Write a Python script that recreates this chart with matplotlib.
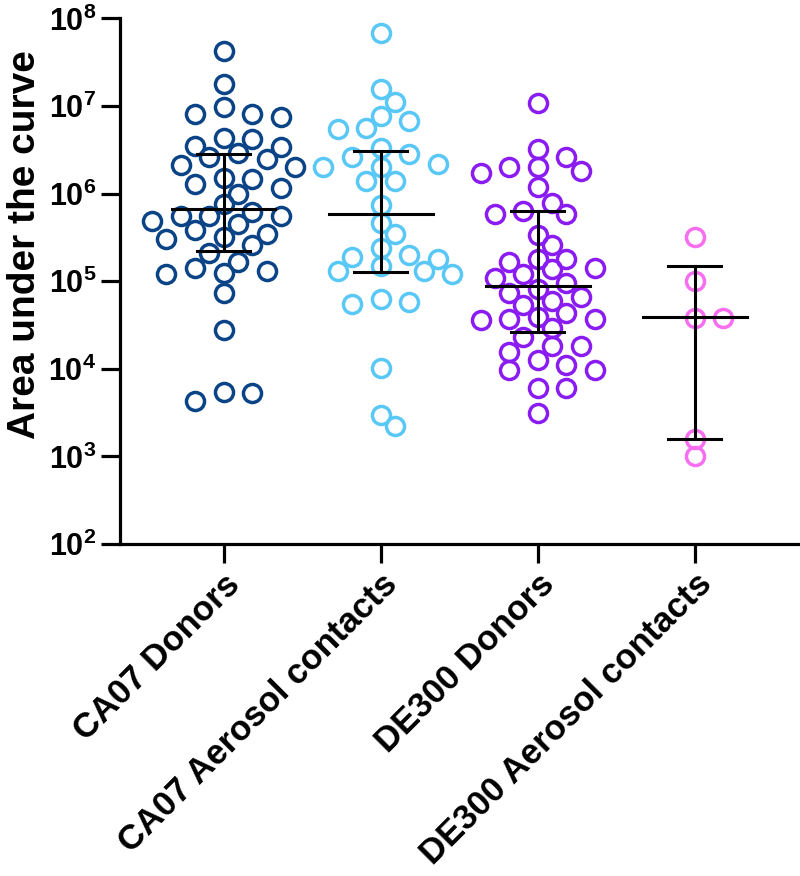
import numpy as np
import matplotlib
matplotlib.use("Agg")
import matplotlib.pyplot as plt

# ---- data ----
groups = ["CA07 Donors", "CA07 Aerosol contacts", "DE300 Donors", "DE300 Aerosol contacts"]
colors = ["#0b4387", "#5ac8f7", "#8a1cf2", "#f76ef0"]

ca07_donors = [4.2e7, 1.76e7, 9.8e6, 8.1e6, 8.1e6, 7.4e6, 4.3e6, 4.2e6, 3.5e6, 3.4e6,
               2.9e6, 2.6e6, 2.5e6, 2.1e6, 2.0e6, 1.5e6, 1.45e6, 1.3e6, 1.15e6, 1.0e6,
               7.6e5, 6.2e5, 5.6e5, 5.5e5, 5.5e5, 4.9e5, 4.5e5, 3.8e5, 3.5e5, 3.2e5,
               3.0e5, 2.6e5, 2.1e5, 1.65e5, 1.4e5, 1.3e5, 1.25e5, 1.2e5, 7.4e4, 2.8e4,
               5.4e3, 5.3e3, 4.3e3]
ca07_aerosol = [6.9e7, 1.55e7, 1.12e7, 7.6e6, 6.8e6, 5.6e6, 5.4e6, 3.3e6, 2.8e6, 2.6e6,
                2.2e6, 2.0e6, 2.0e6, 1.4e6, 1.4e6, 7.4e5, 4.6e5, 3.5e5, 2.4e5, 2.0e5,
                1.9e5, 1.8e5, 1.5e5, 1.3e5, 1.3e5, 1.2e5, 6.2e4, 5.8e4, 5.5e4, 1.02e4,
                3.0e3, 2.2e3]
de300_donors = [1.07e7, 3.2e6, 2.6e6, 2.0e6, 2.0e6, 1.8e6, 1.7e6, 1.2e6, 7.9e5, 6.3e5,
                5.9e5, 5.9e5, 3.4e5, 2.6e5, 1.8e5, 1.8e5, 1.65e5, 1.4e5, 1.37e5, 1.2e5,
                1.1e5, 9.5e4, 8.1e4, 7.4e4, 6.6e4, 6.0e4, 5.3e4, 4.3e4, 3.9e4, 3.7e4,
                3.7e4, 3.6e4, 2.9e4, 2.3e4, 1.8e4, 1.8e4, 1.55e4, 1.25e4, 1.1e4, 9.6e3,
                9.6e3, 6.0e3, 6.0e3, 3.1e3]
de300_aerosol = [3.2e5, 1.0e5, 3.8e4, 3.8e4, 1.6e3, 1.0e3]

medians = [6.6e5, 5.9e5, 8.7e4, 3.9e4]
q1 = [2.2e5, 1.26e5, 2.6e4, 1.6e3]
q3 = [2.8e6, 3.1e6, 6.3e5, 1.5e5]

ytick_exp = [2, 3, 4, 5, 6, 7, 8]

plt.rcParams["font.family"] = ["Liberation Sans", "DejaVu Sans"]
plt.rcParams["font.weight"] = "bold"
plt.rcParams["mathtext.fontset"] = "custom"
plt.rcParams["mathtext.rm"] = "Liberation Sans:bold"
plt.rcParams["mathtext.bf"] = "Liberation Sans:bold"


def swarm_x(ax, center, values, step_px=14.3, diam_px=17.5):
    """Beeswarm simples: offsets em múltiplos de step_px, distância mínima diam_px."""
    to_disp = ax.transData
    x0 = to_disp.transform((center, 1.0))[0]
    ys = [to_disp.transform((center, v))[1] for v in values]
    order = [0]
    for i in range(1, 12):
        order += [i, -i]
    placed = []
    for y in ys:
        for k in order:
            x = x0 + k * step_px
            if all((x - px) ** 2 + (y - py) ** 2 >= diam_px ** 2 for px, py in placed):
                break
        placed.append((x, y))
    inv = ax.transData.inverted()
    return [inv.transform(p)[0] for p in placed]


fig = plt.figure(figsize=(8.0, 8.76), dpi=100)
ax = fig.add_axes([0.15, 0.379, 0.85, 0.6])
ax.set_yscale("log")
ax.set_ylim(1e2, 1e8)
ax.set_xlim(-0.66, 3.67)

data = [ca07_donors, ca07_aerosol, de300_donors, de300_aerosol]
for i, vals in enumerate(data):
    xs = swarm_x(ax, i, vals)
    ax.plot(xs, vals, "o", ms=13, mfc="none", mec=colors[i], mew=2.5,
            zorder=2, clip_on=False)
    # mediana com intervalo interquartil
    ax.plot([i - 0.33, i + 0.33], [medians[i]] * 2, color="k", lw=2.2, zorder=3)
    ax.plot([i, i], [q1[i], q3[i]], color="k", lw=2.2, zorder=3)
    ax.plot([i - 0.17, i + 0.17], [q1[i]] * 2, color="k", lw=2.2, zorder=3)
    ax.plot([i - 0.17, i + 0.17], [q3[i]] * 2, color="k", lw=2.2, zorder=3)

ax.set_yticks([10.0 ** k for k in ytick_exp])
ax.set_yticklabels([rf"$\mathbf{{10^{{{k}}}}}$" for k in ytick_exp], fontsize=22)
ax.minorticks_off()
ax.set_xticks(range(len(groups)))
ax.set_xticklabels(groups, rotation=45, ha="right", rotation_mode="anchor",
                   fontsize=25, fontweight="bold")
ax.set_ylabel("Area under the curve", fontsize=28, fontweight="bold")
ax.yaxis.set_label_coords(-0.113, 0.57)

for s in ["top", "right"]:
    ax.spines[s].set_visible(False)
for s in ["left", "bottom"]:
    ax.spines[s].set_linewidth(2.3)
ax.tick_params(axis="both", direction="out", length=14, width=2.3, pad=3)

fig.savefig("out.png", dpi=100)
